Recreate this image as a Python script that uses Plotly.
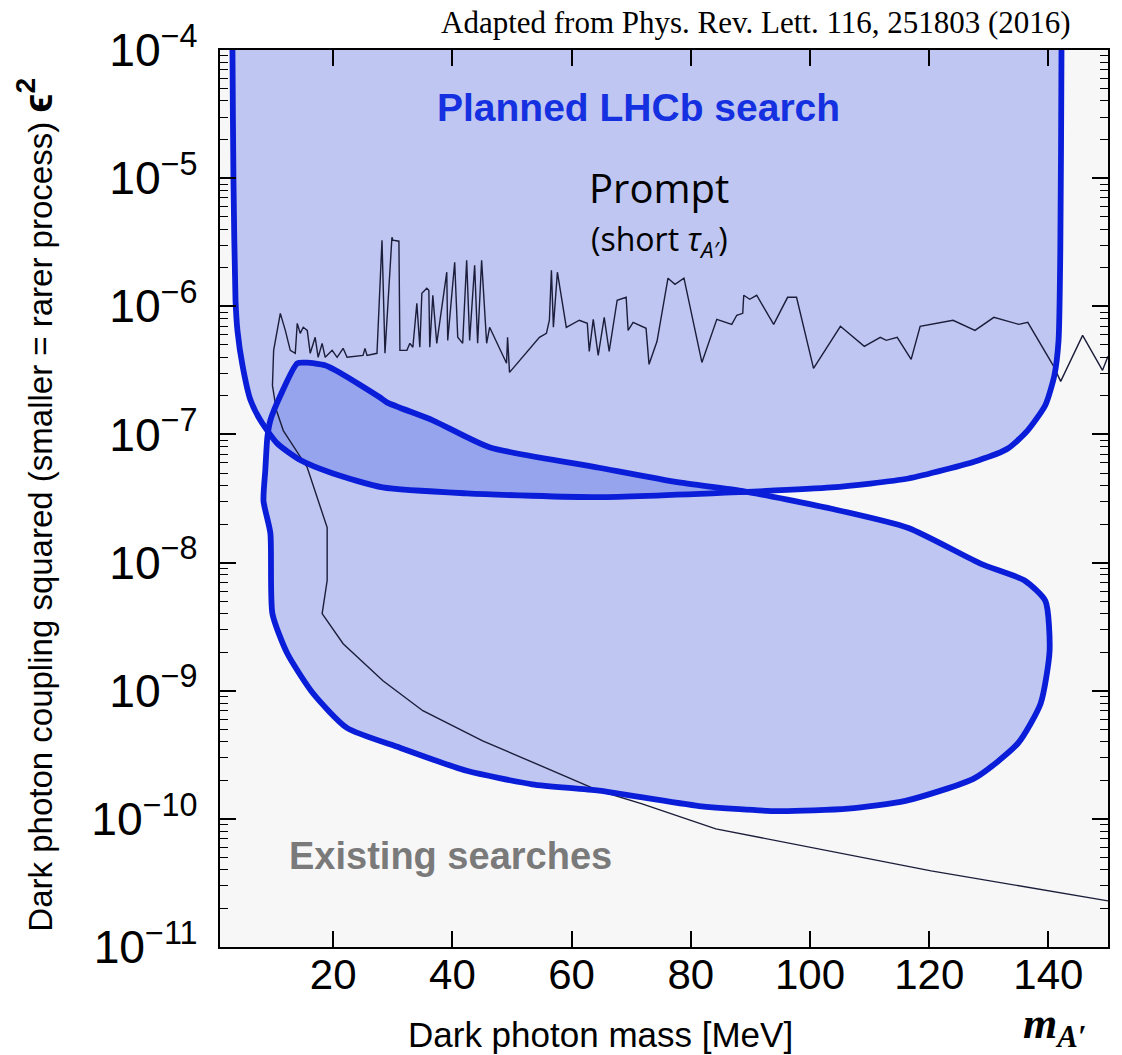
import numpy as np
import plotly.graph_objects as go

# ---------------- data (mass in MeV, log10 of epsilon^2) ----------------
prompt_mass = [3.09, 3.09, 3.26, 3.60, 3.93, 4.77, 6.1, 7.78, 10.6, 14.46, 19.98, 28.3, 42.4,
               64.6, 88.5, 103.6, 116.5, 128.2, 133.2, 136.5, 139.5, 141.0, 141.7, 142.0,
               142.2, 142.2]
prompt_log_eps2 = [-3.8, -4.0, -5.02, -5.95, -6.19, -6.46, -6.73, -6.89, -7.07, -7.20, -7.305,
                   -7.414, -7.46, -7.49, -7.45, -7.414, -7.344, -7.203, -7.11, -6.97, -6.77,
                   -6.54, -6.27, -5.56, -4.0, -3.8]

displaced_mass = [9.45, 11.1, 13.96, 15.6, 18.6, 21.2, 27.8, 29.0, 36.7, 46.2, 64.6, 78.0, 88.5,
                  103.6, 116.5, 128.7, 136.0, 139.5, 140.2, 138.7, 134.9, 127.7, 116.0, 106.4,
                  94.7, 81.4, 64.6, 53.4, 42.4, 31.2, 22.3, 16.6, 12.3, 9.8, 9.45, 8.3, 8.6,
                  8.95, 9.45]
displaced_log_eps2 = [-6.89, -6.70, -6.445, -6.44, -6.46, -6.52, -6.71, -6.75, -6.89, -7.10,
                      -7.26, -7.375, -7.44, -7.58, -7.73, -8.01, -8.14, -8.30, -8.69, -9.10,
                      -9.41, -9.68, -9.86, -9.92, -9.94, -9.90, -9.78, -9.73, -9.625, -9.445,
                      -9.29, -9.02, -8.71, -8.40, -7.77, -7.52, -7.28, -7.02, -6.89]

existing_mass = [150.0, 149.08, 145.74, 142.06, 140.89, 136.54, 135.03, 130.85, 127.68, 124.0,
                 118.48, 116.97, 114.63, 112.79, 111.79, 109.11, 105.10, 100.59, 97.74, 96.24,
                 93.90, 91.05, 89.88, 88.88, 88.71, 87.71, 86.87, 84.36, 81.86, 78.85, 77.34,
                 76.17, 74.33, 72.99, 72.49, 70.32, 69.48, 69.15, 67.64, 66.30, 65.47, 64.46,
                 63.63, 62.96, 62.63, 61.29, 59.11, 57.61, 56.94, 56.61, 56.27, 55.77, 54.60,
                 49.58, 49.25, 49.08, 46.24, 45.74, 44.90, 44.23, 43.73, 42.89, 42.39, 41.72,
                 40.89, 40.38, 39.21, 39.05, 37.37, 36.71, 36.20, 36.04, 35.70, 34.87, 34.53,
                 34.03, 33.36, 32.86, 32.36, 31.19, 31.02, 30.02, 29.85, 28.68, 28.18, 27.34,
                 25.67, 25.33, 25.0, 22.32, 21.66, 20.65, 19.82, 18.65, 18.14, 17.47, 16.97,
                 16.14, 15.64, 14.97, 14.46, 13.96, 13.63, 12.79, 11.96, 11.12, 10.0, 9.8,
                 10.45, 11.62, 15.64, 18.98, 18.98, 18.14, 21.66, 28.34, 35.03, 45.07, 64.63,
                 71.82, 84.2, 120.32, 150.0]
existing_log_eps2 = [-6.39, -6.5, -6.227, -6.586, -6.469, -6.125, -6.141, -6.086, -6.188, -6.109,
                     -6.156, -6.414, -6.242, -6.266, -6.242, -6.3125, -6.156, -6.484, -5.93,
                     -5.93, -6.141, -5.914, -5.945, -5.914, -6.055, -6.07, -6.141, -6.102,
                     -6.438, -5.781, -5.828, -5.781, -6.273, -6.453, -6.172, -6.125, -6.188,
                     -5.93, -5.953, -6.352, -6.086, -6.383, -6.102, -6.352, -6.133, -6.109,
                     -6.164, -5.734, -6.164, -5.719, -6.109, -6.211, -6.242, -6.516, -6.242,
                     -6.445, -6.164, -6.289, -5.641, -6.289, -5.68, -6.266, -5.641, -6.289,
                     -6.242, -5.656, -6.266, -5.734, -6.289, -5.914, -6.32, -5.875, -5.859,
                     -5.898, -6.32, -5.977, -6.32, -6.289, -6.344, -6.344, -5.492, -5.484,
                     -5.461, -6.367, -5.484, -6.367, -6.383, -6.328, -6.383, -6.398, -6.328,
                     -6.398, -6.344, -6.398, -6.289, -6.398, -6.242, -6.367, -6.188, -6.164,
                     -6.211, -6.133, -6.367, -6.344, -6.1875, -6.055, -6.344, -6.617, -6.81,
                     -6.97, -7.258, -7.727, -8.14, -8.398, -8.633, -8.922, -9.156, -9.391,
                     -9.781, -9.883, -10.078, -10.406, -10.64]

x_tick_vals = [20, 40, 60, 80, 100, 120, 140]

# ---------------- styles ----------------
BLUE = "#0a1dd8"
FILL = "rgba(60,85,230,0.30)"
SANS = "Liberation Sans, Arial"

def pw(v):
    return list(10.0 ** np.array(v))

fig = go.Figure()

# fills
fig.add_trace(go.Scatter(x=prompt_mass, y=pw(prompt_log_eps2), mode="lines", fill="toself",
                         fillcolor=FILL, line=dict(width=0, color=FILL, shape="spline", smoothing=0.6),
                         hoverinfo="skip", showlegend=False))
fig.add_trace(go.Scatter(x=displaced_mass, y=pw(displaced_log_eps2), mode="lines", fill="toself",
                         fillcolor=FILL, line=dict(width=0, color=FILL, shape="spline", smoothing=0.6),
                         hoverinfo="skip", showlegend=False))
# existing searches limit
fig.add_trace(go.Scatter(x=existing_mass, y=pw(existing_log_eps2), mode="lines",
                         line=dict(width=1.4, color="#1b1d3a"), hoverinfo="skip", showlegend=False))
# outlines
fig.add_trace(go.Scatter(x=prompt_mass, y=pw(prompt_log_eps2), mode="lines",
                         line=dict(width=5.8, color=BLUE, shape="spline", smoothing=0.6),
                         hoverinfo="skip", showlegend=False))
fig.add_trace(go.Scatter(x=displaced_mass, y=pw(displaced_log_eps2), mode="lines",
                         line=dict(width=5.8, color=BLUE, shape="spline", smoothing=0.6),
                         hoverinfo="skip", showlegend=False))

fig.update_xaxes(range=[1, 150], tickvals=x_tick_vals, ticks="inside", ticklen=16, tickwidth=1.5,
                 tickcolor="black", showline=True, linecolor="black", linewidth=2, mirror="ticks",
                 showgrid=False, zeroline=False, automargin=False, ticklabelstandoff=-10,
                 tickfont=dict(family=SANS, size=42, color="black"))
fig.update_yaxes(type="log", range=[-11, -4], dtick=1, exponentformat="power", showexponent="all",
                 ticks="inside", ticklen=16, tickwidth=1.5, tickcolor="black",
                 minor=dict(ticks="inside", ticklen=8, tickwidth=1.2, tickcolor="black", showgrid=False),
                 showline=True, linecolor="black", linewidth=2, mirror="ticks",
                 showgrid=False, zeroline=False, automargin=False, ticklabelstandoff=13,
                 tickfont=dict(family=SANS, size=37, color="black"))

C = dict(xanchor="center", yanchor="middle", showarrow=False)
ann = []
ann.append(dict(x=71.3, y=-4.45, xref="x", yref="y", text="<b>Planned LHCb search</b>",
                font=dict(family=SANS, size=39, color="#1530e0"), **C))
ann.append(dict(x=74.7, y=-5.07, xref="x", yref="y", text="Prompt",
                font=dict(family="Open Sans, Noto Sans", size=40, color="black"), **C))
ann.append(dict(x=74.7, y=-5.49, xref="x", yref="y",
                text="(short <i>τ</i><sub><i>A′</i></sub>)",
                font=dict(family="Open Sans, Noto Sans", size=32, color="black"), **C))
ann.append(dict(x=39.7, y=-10.29, xref="x", yref="y", text="<b>Existing searches</b>",
                font=dict(family=SANS, size=38, color="#7a7a7a"), **C))
ann.append(dict(x=0.6036, y=1.031, xref="paper", yref="paper",
                text="Adapted from Phys. Rev. Lett. 116, 251803 (2016)",
                font=dict(family="Liberation Serif, Times New Roman", size=31, color="black"), **C))
ann.append(dict(x=-0.2085, y=0.493, xref="paper", yref="paper", textangle=-90,
                text="Dark photon coupling squared (smaller = rarer process) "
                     "<span style='font-size:40px'><b>ϵ<sup>2</sup></b></span>",
                font=dict(family=SANS, size=33, color="black"), **C))
ann.append(dict(x=0.428, y=-0.098, xref="paper", yref="paper", text="Dark photon mass [MeV]",
                font=dict(family=SANS, size=35, color="black"), **C))
ann.append(dict(x=0.940, y=-0.089, xref="paper", yref="paper",
                text="<b><i>m</i></b><sub><b><i>A′</i></b></sub>",
                font=dict(family="Liberation Serif, Times New Roman", size=44, color="black"), **C))

fig.update_layout(width=1122, height=1055, margin=dict(l=220, r=14, t=50, b=108),
                  paper_bgcolor="white", plot_bgcolor="#f7f7f7", annotations=ann)

fig.write_html("out.html", config={"displayModeBar": False},
               post_script="document.body.style.margin='0';")
